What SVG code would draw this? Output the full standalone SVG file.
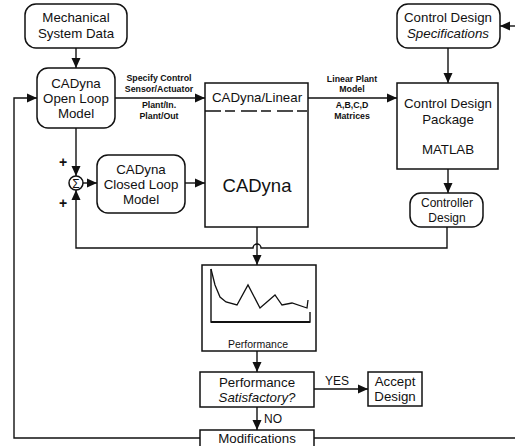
<svg xmlns="http://www.w3.org/2000/svg" width="515" height="446" viewBox="0 0 515 446">
<defs>
<marker id="ah" markerUnits="userSpaceOnUse" markerWidth="10" markerHeight="10" viewBox="0 0 10 10" refX="10" refY="5" orient="auto">
<path d="M0,0.5 L10,5 L0,9.5 Z" fill="#111"/>
</marker>
<style>
.b{fill:#fff;stroke:#111;stroke-width:1.5}
.c{fill:none;stroke:#111;stroke-width:1.4}
text{font-family:"Liberation Sans",Arial,sans-serif;fill:#111;text-anchor:middle}
.t{font-size:13.3px}
.s{font-size:8.8px;font-weight:bold}
.i{font-style:italic}
</style>
</defs>
<rect width="515" height="446" fill="#fff"/>
<g id="connectors">
<line class="c" x1="76" y1="48" x2="76" y2="68" marker-end="url(#ah)"/>
<line class="c" x1="115" y1="98" x2="205" y2="98" marker-end="url(#ah)"/>
<line class="c" x1="76" y1="128" x2="76" y2="176" marker-end="url(#ah)"/>
<line class="c" x1="83" y1="183" x2="97" y2="183" marker-end="url(#ah)"/>
<line class="c" x1="185" y1="183" x2="205" y2="183" marker-end="url(#ah)"/>
<line class="c" x1="308" y1="98" x2="397" y2="98" marker-end="url(#ah)"/>
<line class="c" x1="448" y1="48" x2="448" y2="83" marker-end="url(#ah)"/>
<line class="c" x1="515" y1="26" x2="500" y2="26" marker-end="url(#ah)"/>
<line class="c" x1="448" y1="169" x2="448" y2="193" marker-end="url(#ah)"/>
<path class="c" d="M447,227 V248 H261 A4,4 0 0 0 253,248 H76 V190" marker-end="url(#ah)"/>
<line class="c" x1="257" y1="227" x2="257" y2="265" marker-end="url(#ah)"/>
<line class="c" x1="257" y1="351" x2="257" y2="372" marker-end="url(#ah)"/>
<line class="c" x1="314" y1="389" x2="368" y2="389" marker-end="url(#ah)"/>
<line class="c" x1="257" y1="407" x2="257" y2="430" marker-end="url(#ah)"/>
<path class="c" d="M200,438 H14 V98 H37" marker-end="url(#ah)"/>
<path class="c" d="M314,438 H515"/>
<text class="s" x="159" y="81">Specify Control</text>
<text class="s" x="159" y="92">Sensor/Actuator</text>
<text class="s" x="159" y="108">Plant/In.</text>
<text class="s" x="159" y="119">Plant/Out</text>
<text class="s" x="352" y="82">Linear Plant</text>
<text class="s" x="352" y="92">Model</text>
<text class="s" x="352" y="108">A,B,C,D</text>
<text class="s" x="352" y="119">Matrices</text>
<text x="337" y="385" style="font-size:12px">YES</text>
<text x="273" y="423" style="font-size:12px">NO</text>
<text x="63" y="167" style="font-size:14px;font-weight:bold">+</text>
<text x="63" y="208" style="font-size:14px;font-weight:bold">+</text>
</g>
<g id="mech">
<rect class="b" x="25" y="4" width="102" height="44" rx="11"/>
<text class="t" x="76" y="22">Mechanical</text>
<text class="t" x="76" y="38">System Data</text>
</g>
<g id="openloop">
<rect class="b" x="37" y="68" width="78" height="60" rx="11"/>
<text class="t" x="76" y="88">CADyna</text>
<text class="t" x="76" y="103">Open Loop</text>
<text class="t" x="76" y="118">Model</text>
</g>
<g id="sum">
<circle class="b" cx="76" cy="183" r="7"/>
<text x="76" y="187.5" style="font-size:12px">Σ</text>
</g>
<g id="closedloop">
<rect class="b" x="97" y="155" width="88" height="58" rx="11"/>
<text class="t" x="141" y="174">CADyna</text>
<text class="t" x="141" y="189">Closed Loop</text>
<text class="t" x="141" y="204">Model</text>
</g>
<g id="cadyna">
<rect class="b" x="205" y="83" width="103" height="144"/>
<line x1="205" y1="111" x2="308" y2="111" stroke="#111" stroke-width="1.3" stroke-dasharray="16,4,10,6"/>
<text class="t" x="257" y="102">CADyna/Linear</text>
<text x="257" y="192" style="font-size:18.5px">CADyna</text>
</g>
<g id="specs">
<rect class="b" x="397" y="4" width="103" height="44" rx="11"/>
<text class="t" x="448" y="22">Control Design</text>
<text class="t i" x="448" y="38">Specifications</text>
</g>
<g id="cdp">
<rect class="b" x="397" y="83" width="101" height="86"/>
<text class="t" x="448" y="108">Control Design</text>
<text class="t" x="448" y="124">Package</text>
<text class="t" x="448" y="154">MATLAB</text>
</g>
<g id="controller">
<rect class="b" x="410" y="193" width="73" height="34" rx="11"/>
<text x="447" y="207" style="font-size:12px">Controller</text>
<text x="447" y="222" style="font-size:12px">Design</text>
</g>
<g id="performance">
<rect class="b" x="202" y="265" width="114" height="86"/>
<path d="M211,269 V322 H310 V312" fill="none" stroke="#111" stroke-width="1.4"/>
<line x1="211" y1="322" x2="310" y2="322" stroke="#111" stroke-width="2.2"/>
<polyline fill="none" stroke="#111" stroke-width="1.3" points="211,269 215,285 220,297 226,302 237,305 248,285 260,308 275,295 282,305 292,303 307,308 308,300"/>
<text x="258" y="348" style="font-size:10.5px">Performance</text>
</g>
<g id="satisfactory">
<rect class="b" x="200" y="372" width="114" height="35"/>
<text class="t" x="257" y="387">Performance</text>
<text class="t i" x="257" y="402">Satisfactory?</text>
</g>
<g id="accept">
<rect class="b" x="368" y="372" width="54" height="34"/>
<text class="t" x="395" y="386">Accept</text>
<text class="t" x="395" y="401">Design</text>
</g>
<g id="modifications">
<rect class="b" x="200" y="430" width="114" height="20"/>
<text class="t" x="257" y="443">Modifications</text>
</g>
</svg>
